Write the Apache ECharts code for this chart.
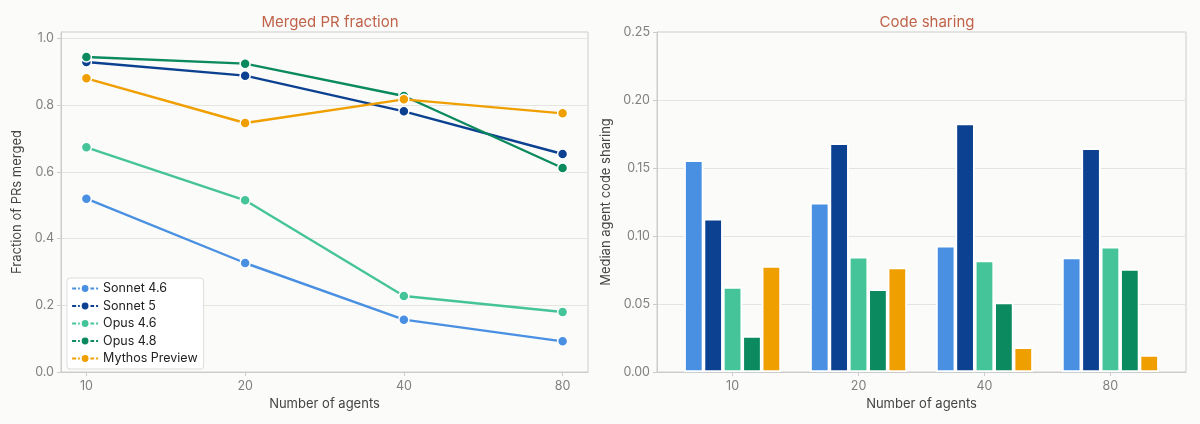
<!DOCTYPE html>
<html>
<head>
<meta charset="utf-8">
<script src="https://cdn.jsdelivr.net/npm/echarts@6/dist/echarts.min.js"></script>
<style>
  html, body { margin: 0; padding: 0; background: #fbfbf9; }
  #chartDom { width: 1200px; height: 424px; }
</style>
</head>
<body>
<div id="chartDom"></div>
<script>
// x categories (number of agents)
var agents = ['10', '20', '40', '80'];
var modelNames = ['Sonnet 4.6', 'Sonnet 5', 'Opus 4.6', 'Opus 4.8', 'Mythos Preview'];
var modelColors = ['#4a90e2', '#0b4190', '#45c49a', '#0b8a5f', '#f09f00'];

// merged PR fraction, one list per model
var mergedSonnet46 = [0.520, 0.327, 0.157, 0.092];
var mergedSonnet5 = [0.930, 0.889, 0.782, 0.654];
var mergedOpus46 = [0.674, 0.515, 0.228, 0.180];
var mergedOpus48 = [0.945, 0.925, 0.828, 0.612];
var mergedMythos = [0.881, 0.747, 0.818, 0.776];

// median agent code sharing, one list per model
var shareSonnet46 = [0.1557, 0.1245, 0.0928, 0.0843];
var shareSonnet5 = [0.1127, 0.1682, 0.1827, 0.1646];
var shareOpus46 = [0.0626, 0.0847, 0.0821, 0.0921];
var shareOpus48 = [0.0265, 0.0609, 0.0511, 0.0757];
var shareMythos = [0.0779, 0.0769, 0.0182, 0.0125];

var leftTicks = [0, 0.2, 0.4, 0.6, 0.8, 1.0];
var rightTicks = [0, 0.05, 0.10, 0.15, 0.20, 0.25];

var mergedLists = [mergedSonnet46, mergedSonnet5, mergedOpus46, mergedOpus48, mergedMythos];
var shareLists = [shareSonnet46, shareSonnet5, shareOpus46, shareOpus48, shareMythos];

var fontFamily = 'Inter, "Noto Sans", sans-serif';
var tickColor = '#808080';
var frameColor = '#cccccc';
var gridColor = '#e4e4e0';
var idx = agents.map(function (a, i) { return i; });

function xAxisOf(gridIndex, min, max, name) {
    return {
        type: 'value', gridIndex: gridIndex, min: min, max: max,
        name: name, nameLocation: 'middle', nameGap: 26,
        nameTextStyle: { color: '#444', fontSize: 13, fontFamily: fontFamily },
        axisLine: { show: true, onZero: false, lineStyle: { color: frameColor } },
        axisTick: { show: true, length: 4, customValues: idx, lineStyle: { color: frameColor } },
        axisLabel: {
            customValues: idx, color: tickColor, fontSize: 12.5, margin: 8, fontFamily: fontFamily,
            formatter: function (v) { return agents[Math.round(v)]; }
        },
        splitLine: { show: false }
    };
}

function yAxisOf(gridIndex, min, max, interval, ticks, digits, name, gap) {
    return {
        type: 'value', gridIndex: gridIndex, min: min, max: max, interval: interval,
        name: name, nameLocation: 'middle', nameGap: gap, nameRotate: 90,
        nameTextStyle: { color: '#444', fontSize: 13, fontFamily: fontFamily },
        axisLine: { show: true, onZero: false, lineStyle: { color: frameColor } },
        axisTick: { show: true, length: 4, customValues: ticks, lineStyle: { color: frameColor } },
        axisLabel: {
            customValues: ticks, color: tickColor, fontSize: 12.5, margin: 7, fontFamily: fontFamily,
            formatter: function (v) { return v.toFixed(digits); }
        },
        splitLine: { show: true, lineStyle: { color: gridColor, width: 1 } }
    };
}

var series = [];
modelNames.forEach(function (name, m) {
    series.push({
        name: name, type: 'line', xAxisIndex: 0, yAxisIndex: 0,
        data: mergedLists[m].map(function (v, i) { return [i, v]; }),
        symbol: 'circle', symbolSize: 10, showSymbol: true,
        lineStyle: { color: modelColors[m], width: 2.4 },
        itemStyle: { color: modelColors[m], borderColor: '#ffffff', borderWidth: 1.5 },
        z: 2 + m
    });
});
modelNames.forEach(function (name, m) {
    series.push({
        name: name + ' ', type: 'bar', xAxisIndex: 1, yAxisIndex: 1,
        data: shareLists[m].map(function (v, i) { return [i, v]; }),
        barWidth: 19.4, barGap: '0%',
        itemStyle: { color: modelColors[m], borderColor: '#ffffff', borderWidth: 1.8 }
    });
});

var chartDom = echarts.init(document.getElementById('chartDom'));
chartDom.setOption({
    animation: false,
    backgroundColor: '#fbfbf9',
    textStyle: { fontFamily: fontFamily },
    title: [
        { text: 'Merged PR fraction', left: 325, top: 10, textAlign: 'center',
          textStyle: { color: '#c0634b', fontSize: 15, fontWeight: 'normal', fontFamily: fontFamily } },
        { text: 'Code sharing', left: 922, top: 10, textAlign: 'center',
          textStyle: { color: '#c0634b', fontSize: 15, fontWeight: 'normal', fontFamily: fontFamily } }
    ],
    legend: {
        data: modelNames,
        orient: 'vertical', left: 67, top: 278,
        itemWidth: 26, itemHeight: 11, itemGap: 4.5,
        padding: [4, 6, 4, 4],
        backgroundColor: '#ffffff', borderColor: '#dddddd', borderWidth: 1, borderRadius: 3,
        lineStyle: { type: [4, 2], width: 2.2 },
        textStyle: { color: '#222', fontSize: 12.5, fontFamily: fontFamily },
        selectedMode: false
    },
    grid: [
        { left: 61, top: 32, right: 612, bottom: 52, show: true, borderColor: frameColor, borderWidth: 1, backgroundColor: 'transparent' },
        { left: 657, top: 32, right: 14, bottom: 52, show: true, borderColor: frameColor, borderWidth: 1, backgroundColor: 'transparent' }
    ],
    xAxis: [
        xAxisOf(0, -0.16, 3.16, 'Number of agents'),
        xAxisOf(1, -0.6, 3.6, 'Number of agents')
    ],
    yAxis: [
        yAxisOf(0, 0, 1.02, 0.2, leftTicks, 1, 'Fraction of PRs merged', 37),
        yAxisOf(1, 0, 0.25, 0.05, rightTicks, 2, 'Median agent code sharing', 44)
    ],
    series: series
});
</script>
</body>
</html>
